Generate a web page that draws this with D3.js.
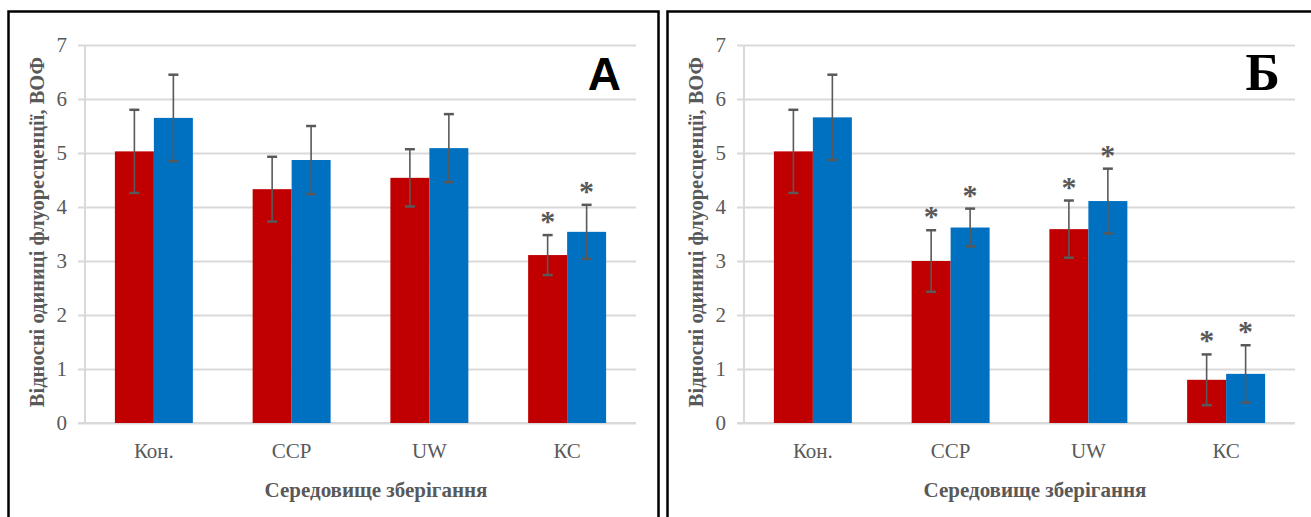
<!DOCTYPE html>
<html>
<head>
<meta charset="utf-8">
<script src="https://cdn.jsdelivr.net/npm/d3@7"></script>
<style>
  html, body { margin: 0; padding: 0; background: #fff; }
  svg { display: block; }
</style>
</head>
<body>
<svg id="chart" width="1311" height="517"></svg>
<script>
// Storage media (x categories)
const categories = ["Кон.", "ССР", "UW", "КС"];
const yTicks = [0, 1, 2, 3, 4, 5, 6, 7];

// Panel A
const panelA_first = [5.03, 4.33, 4.54, 3.11];
const panelA_firstErr = [0.77, 0.60, 0.53, 0.37];
const panelA_second = [5.65, 4.87, 5.09, 3.54];
const panelA_secondErr = [0.80, 0.63, 0.63, 0.50];
const panelA_firstStar = [false, false, false, true];
const panelA_secondStar = [false, false, false, true];

// Panel Б
const panelB_first = [5.03, 3.00, 3.59, 0.80];
const panelB_firstErr = [0.77, 0.57, 0.53, 0.47];
const panelB_second = [5.66, 3.62, 4.11, 0.91];
const panelB_secondErr = [0.79, 0.35, 0.60, 0.53];
const panelB_firstStar = [false, true, true, true];
const panelB_secondStar = [false, true, true, true];

const xTitle = "Середовище зберігання";
const yTitle = "Відносні одиниці флуоресценції, ВОФ";

const svg = d3.select("#chart");
const gray = "#595959";
const gridColor = "#d9d9d9";
const colors = ["#c00000", "#0070c0"];
const serif = "'Liberation Serif', 'Times New Roman', serif";

function drawPanel(ox, letter, letterFont, letterSize, first, firstErr, second, secondErr, firstStar, secondStar) {
  const g = svg.append("g").attr("transform", `translate(${ox},0)`);

  // Frame around the panel (open at the bottom edge of the page)
  g.append("rect")
    .attr("x", 8.5).attr("y", 11.5)
    .attr("width", 650).attr("height", 560)
    .attr("fill", "none").attr("stroke", "#000").attr("stroke-width", 2.5);

  const left = 85, right = 636, top = 45, bottom = 423;
  const x = d3.scaleBand().domain(categories).range([left, right]).paddingInner(0.434).paddingOuter(0.217);
  const y = d3.scaleLinear().domain([0, 7]).range([bottom, top]);
  const inner = d3.scaleBand().domain([0, 1]).range([0, x.bandwidth()]);

  // Gridlines + outward ticks
  const yAxis = d3.axisLeft(y).tickValues(yTicks).tickSize(-(right - left)).tickPadding(18).tickFormat(d3.format("d"));
  const ya = g.append("g").attr("transform", `translate(${left},0)`).call(yAxis);
  ya.select(".domain").remove();
  ya.selectAll(".tick line").attr("stroke", gridColor).attr("stroke-width", 2).attr("x1", -7);
  ya.selectAll(".tick text").attr("fill", gray).style("font-family", serif).style("font-size", "21px").attr("x", -18);

  // Vertical axis line
  g.append("line").attr("x1", left).attr("x2", left).attr("y1", top).attr("y2", bottom)
    .attr("stroke", gridColor).attr("stroke-width", 2);

  // Category axis
  const xAxis = d3.axisBottom(x).tickSize(0).tickPadding(20);
  const xa = g.append("g").attr("transform", `translate(0,${bottom})`).call(xAxis);
  xa.select(".domain").attr("stroke", gridColor).attr("stroke-width", 2).attr("d", `M${left - 7},0H${right}`);
  xa.selectAll(".tick text").attr("fill", gray).style("font-family", serif).style("font-size", "21px");

  const series = [
    { vals: first, errs: firstErr, stars: firstStar },
    { vals: second, errs: secondErr, stars: secondStar }
  ];

  series.forEach((s, si) => {
    const data = categories.map((c, i) => ({ c, v: s.vals[i], e: s.errs[i], star: s.stars[i] }));
    const cx = d => x(d.c) + inner(si) + inner.bandwidth() / 2;

    g.append("g").selectAll("rect").data(data).join("rect")
      .attr("x", d => x(d.c) + inner(si))
      .attr("width", inner.bandwidth())
      .attr("y", d => y(d.v))
      .attr("height", d => y(0) - y(d.v))
      .attr("fill", colors[si]);

    const eb = g.append("g").attr("stroke", gray);
    eb.selectAll("line.stem").data(data).join("line").attr("class", "stem")
      .attr("stroke-width", 1.6)
      .attr("x1", cx).attr("x2", cx)
      .attr("y1", d => y(d.v + d.e)).attr("y2", d => y(d.v - d.e));
    eb.selectAll("line.capTop").data(data).join("line").attr("class", "capTop")
      .attr("stroke-width", 2.5)
      .attr("x1", d => cx(d) - 5).attr("x2", d => cx(d) + 5)
      .attr("y1", d => y(d.v + d.e)).attr("y2", d => y(d.v + d.e));
    eb.selectAll("line.capBot").data(data).join("line").attr("class", "capBot")
      .attr("stroke-width", 2.5)
      .attr("x1", d => cx(d) - 5).attr("x2", d => cx(d) + 5)
      .attr("y1", d => y(d.v - d.e)).attr("y2", d => y(d.v - d.e));

    g.append("g").selectAll("text").data(data.filter(d => d.star)).join("text")
      .attr("x", cx)
      .attr("y", d => y(d.v + d.e) - 4)
      .attr("text-anchor", "middle")
      .attr("fill", gray)
      .style("font-family", serif)
      .style("font-weight", "bold")
      .style("font-size", "30px")
      .text("*");
  });

  // Axis titles
  g.append("text")
    .attr("x", 376).attr("y", 497)
    .attr("text-anchor", "middle")
    .attr("fill", gray)
    .style("font-family", serif).style("font-weight", "bold").style("font-size", "21px")
    .text(xTitle);

  g.append("text")
    .attr("transform", `translate(44,232) rotate(-90)`)
    .attr("text-anchor", "middle")
    .attr("fill", gray)
    .style("font-family", serif).style("font-weight", "bold").style("font-size", "20.5px")
    .text(yTitle);

  // Panel letter
  g.append("text")
    .attr("x", 621).attr("y", 90)
    .attr("text-anchor", "end")
    .attr("fill", "#000")
    .style("font-family", letterFont).style("font-weight", "bold").style("font-size", letterSize)
    .text(letter);
}

drawPanel(0, "A", "'Liberation Sans', Arial, sans-serif", "46px",
  panelA_first, panelA_firstErr, panelA_second, panelA_secondErr, panelA_firstStar, panelA_secondStar);
drawPanel(659, "Б", serif, "52px",
  panelB_first, panelB_firstErr, panelB_second, panelB_secondErr, panelB_firstStar, panelB_secondStar);
</script>
</body>
</html>
